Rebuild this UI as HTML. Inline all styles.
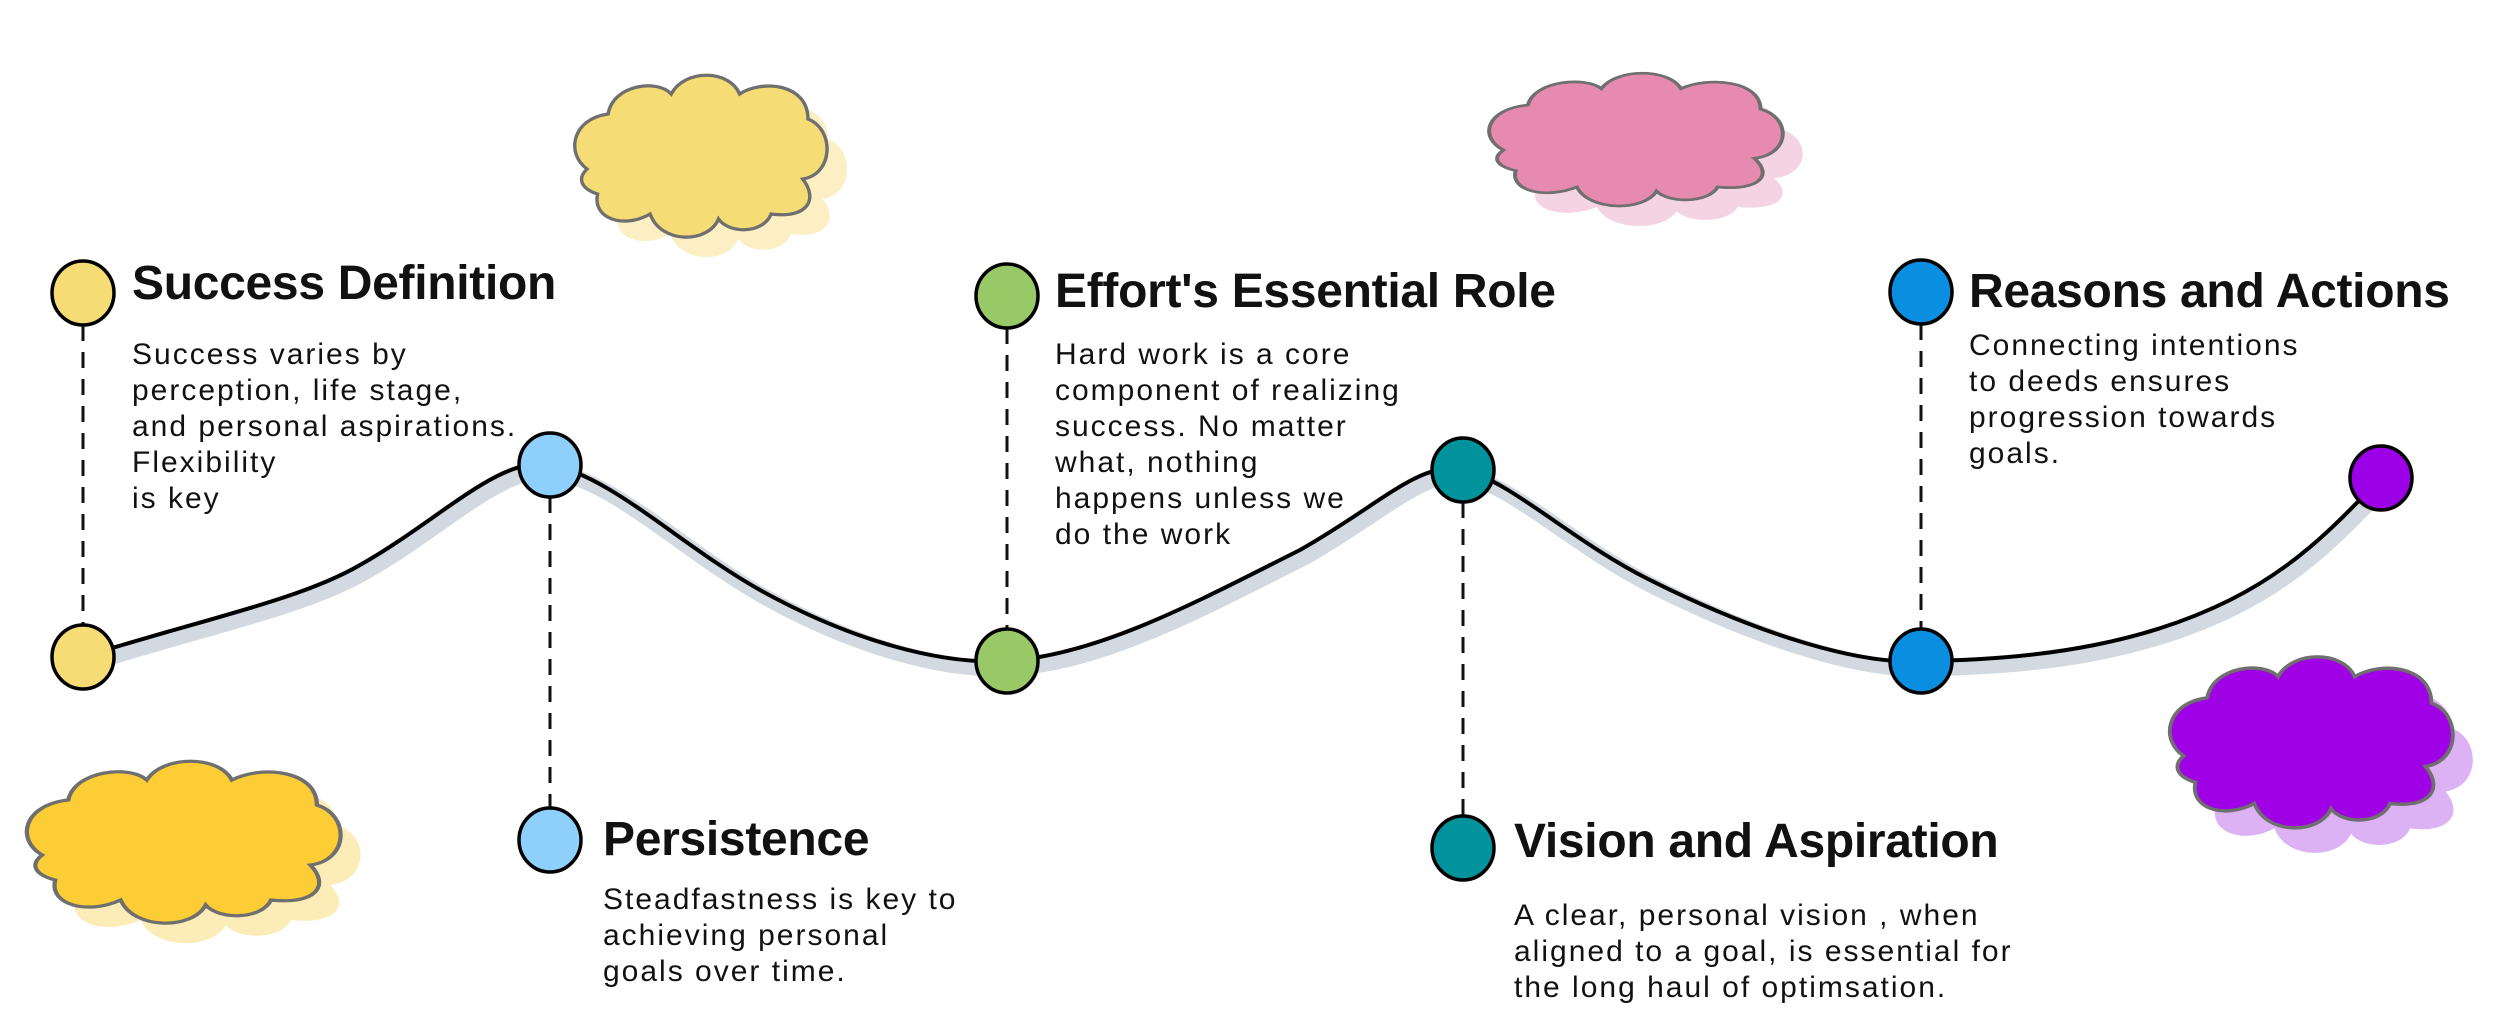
<!DOCTYPE html>
<html><head><meta charset="utf-8"><style>
html,body{margin:0;padding:0;background:#fff;}
body{width:2500px;height:1016px;position:relative;overflow:hidden;font-family:"Liberation Sans",sans-serif;color:#111;}
.t{position:absolute;font-weight:bold;font-size:48px;letter-spacing:-0.3px;white-space:nowrap;line-height:50px;}
.b{position:absolute;font-size:30px;letter-spacing:2px;line-height:36px;white-space:nowrap;color:#111;}
svg{position:absolute;left:0;top:0;}
</style></head><body>
<svg width="2500" height="1016" viewBox="0 0 2500 1016">
<defs>
<path id="cl" d="M8,42 C0,36 2,22 16,20 C18,8 35,6 40,12 C45,2 62,2 66,12 C75,6 92,8 92,22 C102,26 102,44 90,46 C96,54 92,62 78,60 C75,68 62,68 58,62 C54,72 36,72 32,60 C22,66 10,62 12,52 C6,50 4,46 8,42 Z"/>
</defs>
<g transform="translate(586,84) scale(2.63,2.5)"><use href="#cl" fill="#FBEFC3"/></g>
<g transform="translate(566,64) scale(2.63,2.5)"><use href="#cl" fill="#F6DC74" stroke="#6f6f6f" stroke-width="1.3"/></g>
<g transform="translate(1499,84) scale(3.06,2.05)"><use href="#cl" fill="#F4D3E2"/></g>
<g transform="translate(1479,64) scale(3.06,2.05)"><use href="#cl" fill="#E68AB0" stroke="#6f6f6f" stroke-width="1.3"/></g>
<g transform="translate(36,770) scale(3.27,2.5)"><use href="#cl" fill="#FCEDB8"/></g>
<g transform="translate(16,750) scale(3.27,2.5)"><use href="#cl" fill="#FCCD34" stroke="#6f6f6f" stroke-width="1.3"/></g>
<g transform="translate(2180,670) scale(2.95,2.64)"><use href="#cl" fill="#DDB2F5"/></g>
<g transform="translate(2160,645) scale(2.95,2.64)"><use href="#cl" fill="#A000E6" stroke="#6f6f6f" stroke-width="1.3"/></g>
<g stroke="#111" stroke-width="3" stroke-dasharray="16 11">
<line x1="83" y1="325" x2="83" y2="625"/>
<line x1="550" y1="497" x2="550" y2="808"/>
<line x1="1007" y1="328" x2="1007" y2="629"/>
<line x1="1463" y1="502" x2="1463" y2="816"/>
<line x1="1921" y1="324" x2="1921" y2="629"/>
</g>
<path d="M83 657 C 200 620, 300 600, 360 565 C 440 520, 500 455, 550 465 C 610 475, 680 545, 760 590 C 850 640, 940 665, 1007 661 C 1100 655, 1200 600, 1300 550 C 1380 505, 1420 460, 1463 470 C 1510 480, 1570 540, 1650 580 C 1760 635, 1860 665, 1921 661 C 2050 660, 2150 640, 2230 600 C 2300 565, 2340 520, 2381 478" fill="none" stroke="#D3D9E1" stroke-width="16" transform="translate(5,7)"/>
<path d="M83 657 C 200 620, 300 600, 360 565 C 440 520, 500 455, 550 465 C 610 475, 680 545, 760 590 C 850 640, 940 665, 1007 661 C 1100 655, 1200 600, 1300 550 C 1380 505, 1420 460, 1463 470 C 1510 480, 1570 540, 1650 580 C 1760 635, 1860 665, 1921 661 C 2050 660, 2150 640, 2230 600 C 2300 565, 2340 520, 2381 478" fill="none" stroke="#000" stroke-width="4"/>
<g stroke="#000" stroke-width="3.5">
<ellipse cx="83" cy="293" rx="31" ry="32" fill="#F6DC74"/>
<ellipse cx="83" cy="657" rx="31" ry="32" fill="#F6DC74"/>
<ellipse cx="550" cy="465" rx="31" ry="32" fill="#8ECFFB"/>
<ellipse cx="550" cy="840" rx="31" ry="32" fill="#8ECFFB"/>
<ellipse cx="1007" cy="296" rx="31" ry="32" fill="#99C866"/>
<ellipse cx="1007" cy="661" rx="31" ry="32" fill="#99C866"/>
<ellipse cx="1463" cy="470" rx="31" ry="32" fill="#00939C"/>
<ellipse cx="1463" cy="848" rx="31" ry="32" fill="#00939C"/>
<ellipse cx="1921" cy="292" rx="31" ry="32" fill="#0A8FE0"/>
<ellipse cx="1921" cy="661" rx="31" ry="32" fill="#0A8FE0"/>
<ellipse cx="2381" cy="478" rx="31" ry="32" fill="#9B00E6"/>
</g>
</svg>
<div class="t" style="left:132px;top:259px">Success Definition</div>
<div class="b" style="left:132px;top:337px">Success varies by<br>perception, life stage,<br>and personal aspirations.<br>Flexibility<br>is key</div>
<div class="t" style="left:603px;top:815px">Persistence</div>
<div class="b" style="left:603px;top:882px">Steadfastness is key to<br>achieving personal<br>goals over time.</div>
<div class="t" style="left:1055px;top:267px">Effort's Essential Role</div>
<div class="b" style="left:1055px;top:337px">Hard work is a core<br>component of realizing<br>success. No matter<br>what, nothing<br>happens unless we<br>do the work</div>
<div class="t" style="left:1514px;top:817px">Vision and Aspiration</div>
<div class="b" style="left:1514px;top:898px">A clear, personal vision , when<br>aligned to a goal, is essential for<br>the long haul of optimsation.</div>
<div class="t" style="left:1969px;top:267px">Reasons and Actions</div>
<div class="b" style="left:1969px;top:328px">Connecting intentions<br>to deeds ensures<br>progression towards<br>goals.</div>
</body></html>
